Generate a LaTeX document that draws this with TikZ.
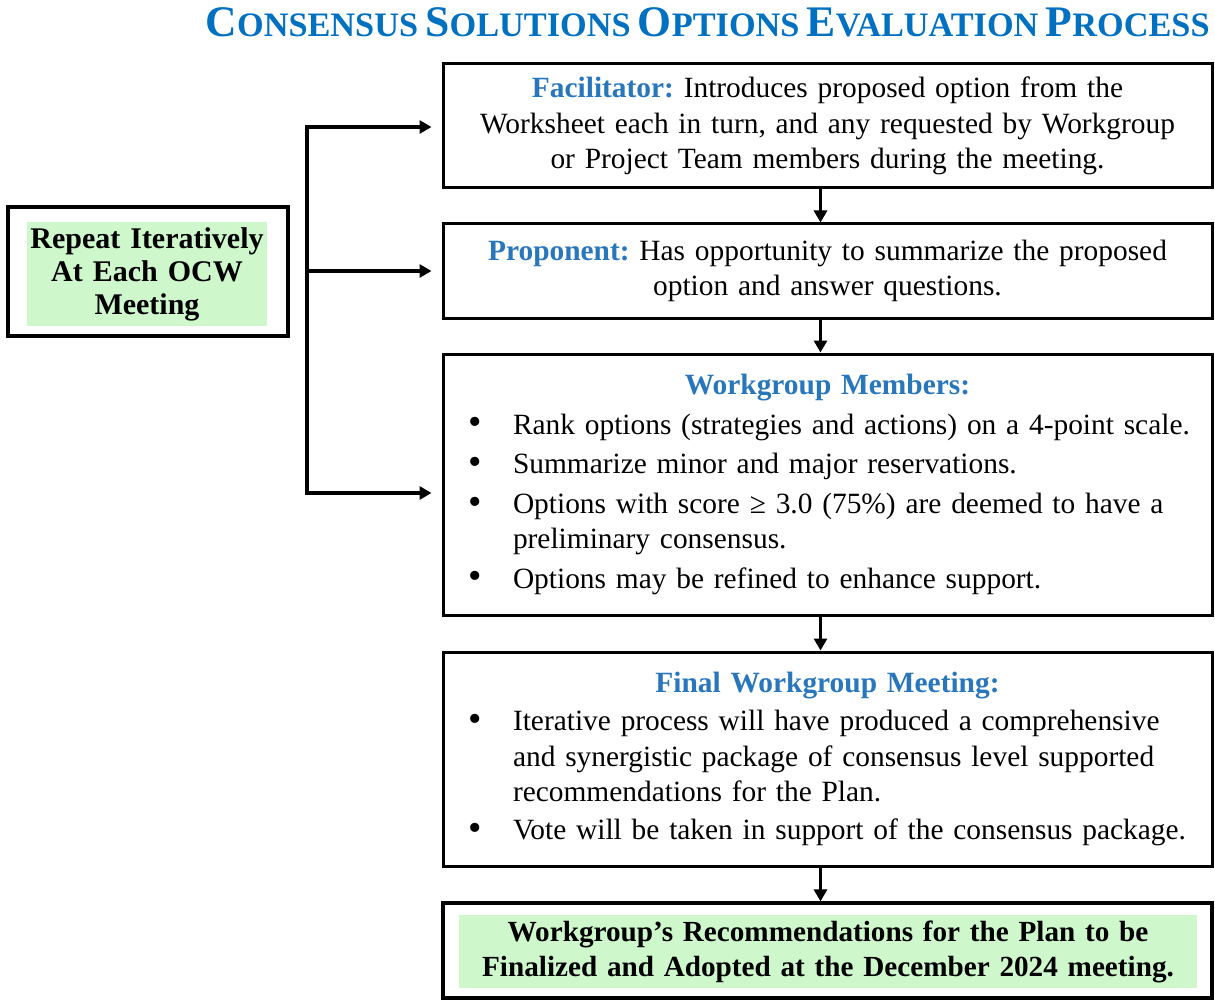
\documentclass[tikz,border=0pt]{standalone}
\usepackage{fontspec}
\setmainfont{Liberation Serif}
\usetikzlibrary{arrows.meta}
\definecolor{titleblue}{RGB}{0,112,192}
\definecolor{labelblue}{RGB}{40,118,188}
\definecolor{paleGreen}{RGB}{206,248,204}
\newcommand{\TitleCap}[2]{{\fontsize{21}{21}\selectfont #1}{\fontsize{16.5}{16.5}\selectfont #2}}
\newcommand{\bitem}[1]{\par\noindent\hspace*{8.5pt}\makebox[22.25pt][l]{\raisebox{-0.3pt}{\scalebox{1.3}{\textbullet}}}#1}
\newcommand{\bcont}[1]{\\\hspace*{30.75pt}#1}
\frenchspacing
\hyphenpenalty=10000\relax
\begin{document}
\begin{tikzpicture}[x=0.5pt,y=-0.5pt,
  stepbox/.style={draw, line width=1.5pt, minimum width=384.5pt, text width=376pt, inner sep=0pt,
    align=center, font=\fontsize{14.7}{17.6}\selectfont},
  listbox/.style={stepbox, align=left},
  greenbox/.style={fill=paleGreen, inner sep=0pt, align=center, font=\bfseries\fontsize{15}{16.5}\selectfont},
  frame/.style={draw, line width=1.6pt, inner sep=0pt},
  bus/.style={line width=1.8pt, line cap=rect},
  conn/.style={line width=1.8pt, -{Triangle[length=6pt,width=6.5pt]}},
]
\useasboundingbox (0,0) rectangle (1215,1000);

% title
\node[anchor=base east, text=titleblue, inner sep=0pt] (title) at (1210,37)
  {\resizebox{502pt}{!}{\bfseries\TitleCap{C}{ONSENSUS}\hspace{0.35em}\TitleCap{S}{OLUTIONS}\hspace{0.35em}\TitleCap{O}{PTIONS}\hspace{0.35em}\TitleCap{E}{VALUATION}\hspace{0.35em}\TitleCap{P}{ROCESS}}};

% left box
\node[frame, minimum width=140pt, minimum height=64.5pt] (repeatframe) at (148,271.5) {};
\node[greenbox, minimum width=120pt, minimum height=52pt, text width=120pt] (repeat) at (147,274)
  {Repeat Iteratively\\At Each OCW\\Meeting};

% main boxes
\node[stepbox, minimum height=62pt] (facil) at (827.5,126)
  {{\bfseries\color{labelblue}Facilitator:} Introduces proposed option from the\\
   Worksheet each in turn, and any requested by Workgroup\\
   or Project Team members during the meeting.};

\node[stepbox, minimum height=47pt] (prop) at (827.5,271)
  {{\bfseries\color{labelblue}Proponent:} Has opportunity to summarize the proposed\\
   option and answer questions.};

\node[listbox, minimum height=130.5pt] (members) at (827.5,484.5)
  {\setlength{\parskip}{2.2pt}{\centering\bfseries\color{labelblue}Workgroup Members:\par}
   \bitem{Rank options (strategies and actions) on a 4-point scale.}
   \bitem{Summarize minor and major reservations.}
   \bitem{Options with score ≥ 3.0 (75\%) are deemed to have a}\bcont{preliminary consensus.}
   \bitem{Options may be refined to enhance support.}\par};

\node[listbox, minimum height=107pt] (final) at (827.5,759)
  {\setlength{\parskip}{1.5pt}{\centering\bfseries\color{labelblue}Final Workgroup Meeting:\par}
   \bitem{Iterative process will have produced a comprehensive}\bcont{and synergistic package of consensus level supported}\bcont{recommendations for the Plan.}
   \bitem{Vote will be taken in support of the consensus package.}\par};

\node[frame, minimum width=384.5pt, minimum height=47.5pt] (recframe) at (827.5,950.5) {};
\node[greenbox, minimum width=369pt, minimum height=36.5pt, text width=369pt,
  font=\bfseries\fontsize{14.6}{17.5}\selectfont] (rec) at (828,951.5)
  {Workgroup’s Recommendations for the Plan to be\\Finalized and Adopted at the December 2024 meeting.};

% vertical flow
\draw[conn] ([xshift=-3.5pt]facil.south) -- ([xshift=-3.5pt]prop.north);
\draw[conn] ([xshift=-3.5pt]prop.south) -- ([xshift=-3.5pt]members.north);
\draw[conn] ([xshift=-3.5pt]members.south) -- ([xshift=-3.5pt]final.north);
\draw[conn] ([xshift=-3.5pt]final.south) -- ([xshift=-3.5pt]recframe.north);

% iteration bus
\coordinate (j1) at (307,127);
\coordinate (j2) at (307,271);
\coordinate (j3) at (307,493);
\draw[bus] (j1) -- (j3);
\draw[conn, shorten >=5pt] (j1) -- (j1 -| facil.west);
\draw[conn, shorten >=5pt] (j2) -- (j2 -| prop.west);
\draw[conn, shorten >=5pt] (j3) -- (j3 -| members.west);
\end{tikzpicture}
\end{document}
